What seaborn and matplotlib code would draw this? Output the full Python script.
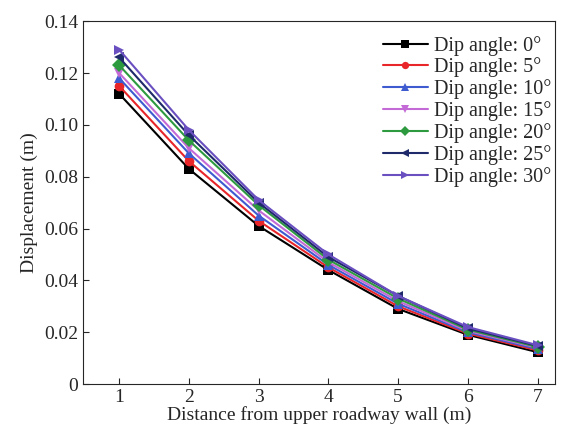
import pandas as pd
import matplotlib.pyplot as plt
import seaborn as sns

sns.set_style("ticks")
plt.rcParams['font.family'] = ['Liberation Serif', 'DejaVu Serif']
plt.rcParams['xtick.direction'] = 'in'
plt.rcParams['ytick.direction'] = 'in'

# dados
distancia = [1, 2, 3, 4, 5, 6, 7]
angulos = ['0°', '5°', '10°', '15°', '20°', '25°', '30°']
desloc_0 = [0.112, 0.083, 0.061, 0.044, 0.029, 0.019, 0.0123]
desloc_5 = [0.115, 0.086, 0.063, 0.045, 0.030, 0.0195, 0.0130]
desloc_10 = [0.118, 0.089, 0.065, 0.046, 0.031, 0.0200, 0.0135]
desloc_15 = [0.120, 0.091, 0.067, 0.047, 0.032, 0.0205, 0.0140]
desloc_20 = [0.123, 0.094, 0.069, 0.048, 0.033, 0.0210, 0.0143]
desloc_25 = [0.126, 0.096, 0.070, 0.049, 0.034, 0.0215, 0.0147]
desloc_30 = [0.129, 0.098, 0.071, 0.050, 0.034, 0.0220, 0.0150]
series = [desloc_0, desloc_5, desloc_10, desloc_15, desloc_20, desloc_25, desloc_30]

linhas = []
for ang, vals in zip(angulos, series):
    for d, v in zip(distancia, vals):
        linhas.append({'Distancia': d, 'Deslocamento': v, 'Angulo': 'Dip angle: ' + ang})
df = pd.DataFrame(linhas)

cores = ['#000000', '#e8262a', '#3f5bd0', '#c46ad6', '#2e9a3f', '#1f2a6b', '#6a4fc0']
marcadores = ['s', 'o', '^', 'v', 'D', '<', '>']

fig = plt.figure(figsize=(5.64, 4.32), dpi=100)
ax = fig.add_axes([0.147, 0.111, 0.837, 0.840])
sns.lineplot(data=df, x='Distancia', y='Deslocamento', hue='Angulo', style='Angulo',
             palette=cores, markers=marcadores, dashes=False, markersize=7,
             markeredgewidth=0, linewidth=1.5, ax=ax)

ax.set_xlim(0.48, 7.25)
ax.set_ylim(0, 0.14)
ax.set_xticks(distancia)
ax.set_yticks([0, 0.02, 0.04, 0.06, 0.08, 0.10, 0.12, 0.14])
ax.set_yticklabels(['0', '0.02', '0.04', '0.06', '0.08', '0.10', '0.12', '0.14'])
ax.tick_params(labelsize=14, length=4, width=0.8)
ax.set_xlabel('Distance from upper roadway wall (m)', fontsize=14, labelpad=0)
ax.set_ylabel('Displacement (m)', fontsize=14)
for s in ax.spines.values():
    s.set_linewidth(0.8)

leg = ax.legend(loc='upper right', frameon=False, fontsize=14.5, handlelength=2.2,
                handletextpad=0.3, labelspacing=0.1, bbox_to_anchor=(1.03, 1.01),
                markerscale=0.75)

fig.savefig('out.png', dpi=100)
